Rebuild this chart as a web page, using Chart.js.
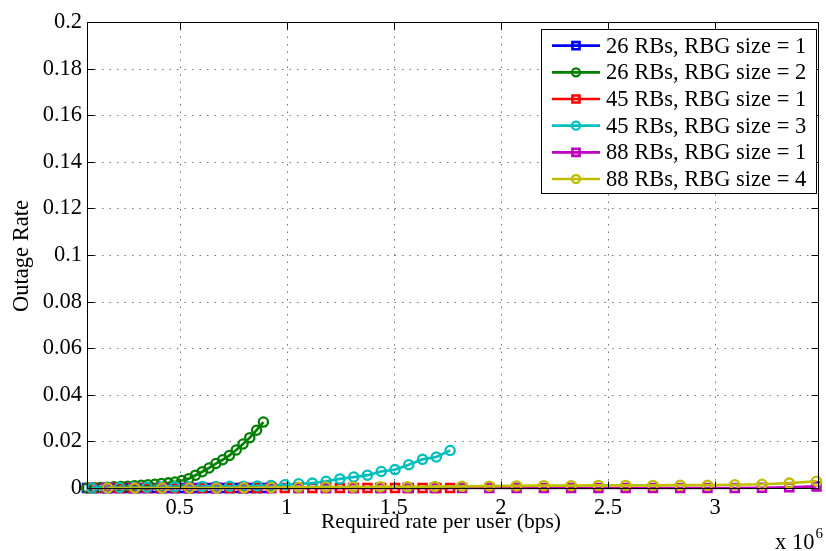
<!DOCTYPE html>
<html>
<head>
<meta charset="utf-8">
<script src="https://cdn.jsdelivr.net/npm/chart.js@4/dist/chart.umd.min.js"></script>
<style>
  html, body { margin: 0; padding: 0; background: #fff; }
  canvas { display: block; }
</style>
</head>
<body>
<canvas id="c" width="826" height="551"></canvas>
<script>
// Required rate per user (bps) swept for each bandwidth
const rates26 = [66800, 98500, 130200, 161900, 193600, 225300, 257000, 288700, 320400,
  352100, 383800, 415500, 447200, 478900, 510600, 542300, 574000, 605700, 637400,
  669100, 700800, 732500, 764200, 795900, 827600, 859300, 891000];
const rates45 = [90400, 154700, 219100, 283400, 347700, 412100, 476400, 540700, 605000,
  669400, 733700, 798000, 862400, 926700, 991000, 1055400, 1119700, 1184000, 1248300,
  1312700, 1377000, 1441300, 1505700, 1570000, 1634300, 1698700, 1763000];
const rates88 = [163700, 291000, 418400, 545700, 673000, 800300, 927600, 1055000, 1182300,
  1309600, 1436900, 1564200, 1691500, 1818900, 1946200, 2073500, 2200800, 2328100, 2455500,
  2582800, 2710100, 2837400, 2964700, 3092100, 3219400, 3346700, 3474000];

// Outage rate per configuration
const outage26rbg1 = [0, 0, 0, 0, 0, 0, 0, 0, 0, 0, 0, 0, 0, 0, 0, 0, 0, 0, 0, 0, 0, 0, 0, 0, 0, 0, 0];
const outage26rbg2 = [0, 0.0001, 0.0002, 0.0003, 0.0005, 0.0006, 0.0008, 0.0010, 0.0012,
  0.0014, 0.0016, 0.0019, 0.0022, 0.0026, 0.0032, 0.0040, 0.0055, 0.0070, 0.0086,
  0.0105, 0.0121, 0.0140, 0.0163, 0.0189, 0.0216, 0.0248, 0.0283];
const outage45rbg1 = [0, 0, 0, 0, 0, 0, 0, 0, 0, 0, 0, 0, 0, 0, 0, 0, 0, 0, 0, 0, 0, 0, 0, 0, 0, 0, 0];
const outage45rbg3 = [0, 0.0001, 0.0002, 0.0003, 0.0003, 0.0004, 0.0005, 0.0005, 0.0006,
  0.0006, 0.0007, 0.0008, 0.0009, 0.0011, 0.0014, 0.0018, 0.0021, 0.0029, 0.0039,
  0.0047, 0.0055, 0.0071, 0.0079, 0.0100, 0.0123, 0.0133, 0.0161];
const outage88rbg1 = [0, 0, 0, 0, 0, 0, 0, 0, 0, 0, 0, 0, 0, 0, 0, 0, 0, 0, 0, 0, 0, 0, 0, 0,
  0.0001, 0.0003, 0.0007];
const outage88rbg4 = [0, 0, 0, 0, 0, 0.0001, 0.0002, 0.0003, 0.0004, 0.0004, 0.0005, 0.0005,
  0.0006, 0.0007, 0.0008, 0.0009, 0.0010, 0.0010, 0.0011, 0.0011, 0.0011, 0.0012, 0.0012,
  0.0014, 0.0016, 0.0021, 0.0029];

// Axis ticks
const xTickValues = [500000, 1000000, 1500000, 2000000, 2500000, 3000000];
const yTickValues = [0, 0.02, 0.04, 0.06, 0.08, 0.1, 0.12, 0.14, 0.16, 0.18, 0.2];

const seriesLabels = ['26 RBs, RBG size = 1', '26 RBs, RBG size = 2', '45 RBs, RBG size = 1',
  '45 RBs, RBG size = 3', '88 RBs, RBG size = 1', '88 RBs, RBG size = 4'];
const seriesColors = ['#0000ff', '#008000', '#ff0000', '#00bfbf', '#bf00bf', '#bfbf00'];
const seriesMarkers = ['rect', 'circle', 'rect', 'circle', 'rect', 'circle'];
const seriesRates = [rates26, rates26, rates45, rates45, rates88, rates88];
const seriesOutage = [outage26rbg1, outage26rbg2, outage45rbg1, outage45rbg3, outage88rbg1, outage88rbg4];

const xTitle = 'Required rate per user (bps)';
const yTitle = 'Outage Rate';
const xMultiplier = 'x 10';
const xExponent = '6';

const FONT = "'Liberation Serif', 'Times New Roman', serif";
const FS = 22.5;
const FS_XTITLE = 21.5;

function markerRadius(style) { return style === 'rect' ? 5.6 : 4.6; }

const datasets = seriesLabels.map((label, i) => ({
  label,
  data: seriesRates[i].map((r, k) => ({ x: r, y: seriesOutage[i][k] })),
  borderColor: seriesColors[i],
  backgroundColor: 'rgba(0,0,0,0)',
  pointBackgroundColor: 'rgba(0,0,0,0)',
  pointBorderColor: seriesColors[i],
  pointStyle: seriesMarkers[i],
  pointRadius: markerRadius(seriesMarkers[i]),
  pointBorderWidth: seriesMarkers[i] === 'rect' ? 2.6 : 2.3,
  borderWidth: 2.7,
  tension: 0,
  clip: 10,
  order: seriesLabels.length - 1 - i
}));

function crisp(v) { return Math.round(v) + 0.5; }

// Axes box, dotted grid, inward tick marks, legend and text annotations
const framePlugin = {
  id: 'frame',
  beforeDatasetsDraw(chart) {
    const { ctx, chartArea: a, scales: { x, y } } = chart;
    ctx.save();
    ctx.strokeStyle = 'rgba(0,0,0,0.55)';
    ctx.lineWidth = 1;
    ctx.setLineDash([1.5, 6]);
    x.ticks.forEach(t => {
      const px = crisp(x.getPixelForValue(t.value));
      ctx.beginPath(); ctx.moveTo(px, a.bottom); ctx.lineTo(px, a.top); ctx.stroke();
    });
    y.ticks.forEach(t => {
      if (t.value <= y.min || t.value >= y.max) return;
      const py = crisp(y.getPixelForValue(t.value));
      ctx.beginPath(); ctx.moveTo(a.left, py); ctx.lineTo(a.right, py); ctx.stroke();
    });
    ctx.restore();
  },
  afterDatasetsDraw(chart) {
    const { ctx, chartArea: a, scales: { x, y } } = chart;
    const L = crisp(a.left), R = crisp(a.right), T = crisp(a.top), B = crisp(a.bottom);
    ctx.save();
    ctx.strokeStyle = '#000';
    ctx.lineWidth = 1;
    ctx.setLineDash([]);
    ctx.strokeRect(L, T, R - L, B - T);
    const tl = 7;
    ctx.beginPath();
    x.ticks.forEach(t => {
      const px = crisp(x.getPixelForValue(t.value));
      ctx.moveTo(px, B); ctx.lineTo(px, B - tl);
      ctx.moveTo(px, T); ctx.lineTo(px, T + tl);
    });
    y.ticks.forEach(t => {
      const py = crisp(y.getPixelForValue(t.value));
      ctx.moveTo(L, py); ctx.lineTo(L + tl, py);
      ctx.moveTo(R, py); ctx.lineTo(R - tl, py);
    });
    ctx.stroke();
    ctx.restore();
  },
  afterDraw(chart) {
    const { ctx } = chart;
    ctx.save();
    // legend
    const lx = 541.5, ly = 29.5, lw = 275, lh = 164;
    ctx.fillStyle = '#fff';
    ctx.fillRect(lx, ly, lw, lh);
    ctx.strokeStyle = '#000';
    ctx.lineWidth = 1;
    ctx.strokeRect(lx, ly, lw, lh);
    ctx.font = FS + 'px ' + FONT;
    ctx.textBaseline = 'middle';
    ctx.textAlign = 'left';
    chart.data.datasets.forEach((ds, i) => {
      const cy = 45.7 + i * 26.66;
      ctx.strokeStyle = ds.borderColor;
      ctx.lineWidth = ds.borderWidth;
      ctx.beginPath(); ctx.moveTo(552, cy); ctx.lineTo(600, cy); ctx.stroke();
      ctx.fillStyle = 'rgba(0,0,0,0)';
      ctx.lineWidth = ds.pointBorderWidth;
      Chart.helpers.drawPoint(ctx, {
        pointStyle: ds.pointStyle, radius: ds.pointRadius - 0.6, borderWidth: ds.pointBorderWidth, rotation: 0
      }, 576, cy);
      ctx.fillStyle = '#000';
      ctx.fillText(ds.label, 606, cy + 1);
    });
    // axis titles
    ctx.fillStyle = '#000';
    ctx.textAlign = 'center';
    ctx.save();
    ctx.translate(22, 256);
    ctx.rotate(-Math.PI / 2);
    ctx.fillText(yTitle, 0, 0);
    ctx.restore();
    ctx.font = FS_XTITLE + 'px ' + FONT;
    ctx.fillText(xTitle, 441, 522);
    // exponent of the x axis
    ctx.textAlign = 'left';
    ctx.font = FS + 'px ' + FONT;
    ctx.fillText(xMultiplier, 775, 543);
    const w = ctx.measureText(xMultiplier).width;
    ctx.font = '15px ' + FONT;
    ctx.fillText(xExponent, 775 + w + 1, 534);
    ctx.restore();
  }
};

new Chart(document.getElementById('c'), {
  type: 'line',
  data: { datasets },
  options: {
    responsive: false,
    animation: false,
    devicePixelRatio: 1,
    layout: { padding: { left: 0, right: 3, top: 22, bottom: 0 } },
    plugins: { legend: { display: false }, tooltip: { enabled: false } },
    scales: {
      x: {
        type: 'linear',
        min: 67300,
        max: 3480000,
        grid: { display: false, drawTicks: false },
        border: { display: false },
        afterBuildTicks: s => { s.ticks = xTickValues.map(v => ({ value: v })); },
        ticks: {
          autoSkip: false,
          maxRotation: 0,
          padding: 7,
          color: '#000',
          font: { family: FONT, size: FS },
          callback: v => String(v / 1e6)
        },
        afterFit: s => { s.height = 63; s.paddingRight = 0; s.paddingLeft = 0; }
      },
      y: {
        type: 'linear',
        min: 0,
        max: 0.2,
        grid: { display: false, drawTicks: false },
        border: { display: false },
        afterBuildTicks: s => { s.ticks = yTickValues.map(v => ({ value: v })); },
        ticks: {
          autoSkip: false,
          padding: 5,
          color: '#000',
          font: { family: FONT, size: FS },
          callback: v => String(Number(v.toFixed(2)))
        },
        afterFit: s => { s.width = 87; s.paddingTop = 0; s.paddingBottom = 0; }
      }
    }
  },
  plugins: [framePlugin]
});
</script>
</body>
</html>
